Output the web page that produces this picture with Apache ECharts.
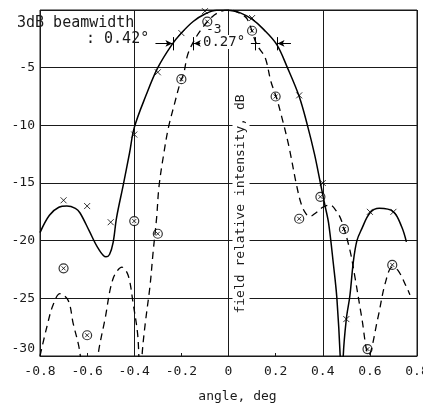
<!DOCTYPE html>
<html>
<head>
<meta charset="utf-8">
<script src="https://cdn.jsdelivr.net/npm/echarts@6/dist/echarts.min.js"></script>
<style>
  html, body { margin: 0; padding: 0; background: #fff; overflow: hidden; }
  #main { width: 423px; height: 403px; }
</style>
</head>
<body>
<div id="main"></div>
<script>
// solid curve: calculated pattern, angle (deg) / level (dB)
const solidAngle = [-0.80, -0.76, -0.72, -0.686, -0.65, -0.63, -0.59, -0.555, -0.52, -0.505, -0.49, -0.475, -0.447, -0.42, -0.40, -0.35, -0.30, -0.24, -0.20, -0.15, -0.10, -0.05, 0.00, 0.05, 0.10, 0.15, 0.205, 0.25, 0.30, 0.335, 0.365, 0.39, 0.41, 0.425, 0.445, 0.46, 0.475, 0.481, 0.487, 0.50, 0.515, 0.53, 0.545, 0.565, 0.60, 0.64, 0.70, 0.735, 0.755];
const solidDb = [-19.3, -17.8, -17.1, -17.0, -17.2, -17.6, -19.2, -20.6, -21.4, -21.2, -20.2, -18.0, -15.2, -12.4, -10.2, -7.4, -5.0, -3.0, -2.0, -1.0, -0.35, -0.02, -0.02, -0.25, -0.8, -1.7, -3.0, -5.0, -7.5, -10.0, -12.5, -15.0, -17.0, -18.5, -22.0, -25.0, -30.5, -36.0, -30.0, -26.8, -24.8, -21.8, -20.0, -19.0, -17.6, -17.2, -17.5, -18.8, -20.1];

// dashed curve
const dashedAngle = [-0.80, -0.77, -0.745, -0.715, -0.68, -0.66, -0.63, -0.592, -0.554, -0.524, -0.49, -0.452, -0.426, -0.405, -0.384, -0.375, -0.367, -0.354, -0.333, -0.32, -0.305, -0.295, -0.275, -0.255, -0.23, -0.205, -0.19, -0.175, -0.155, -0.12, -0.07, -0.03, 0.01, 0.05, 0.08, 0.12, 0.155, 0.18, 0.205, 0.225, 0.255, 0.29, 0.31, 0.33, 0.345, 0.37, 0.40, 0.43, 0.46, 0.48, 0.515, 0.537, 0.565, 0.595, 0.635, 0.665, 0.695, 0.72, 0.755, 0.77];
const dashedDb = [-30.0, -27.4, -25.6, -24.6, -25.2, -27.1, -29.8, -38.0, -30.0, -26.8, -23.3, -22.3, -23.0, -25.4, -28.5, -34.0, -30.0, -27.3, -23.9, -21.0, -18.0, -15.3, -12.5, -10.2, -8.2, -6.3, -5.5, -4.0, -3.0, -1.8, -0.6, -0.1, 0.0, -0.3, -0.8, -3.0, -4.1, -6.2, -7.7, -9.2, -11.7, -15.3, -16.9, -17.7, -17.9, -17.6, -17.1, -16.9, -17.5, -18.3, -20.8, -23.2, -26.6, -29.9, -26.6, -23.7, -22.3, -22.6, -24.0, -24.7];

// measured points (x marks) for the solid curve
const crossAngle = [-0.70, -0.60, -0.50, -0.40, -0.30, -0.20, -0.10, 0.10, 0.30, 0.40, 0.50, 0.60, 0.70];
const crossDb = [-16.5, -17.0, -18.4, -10.8, -5.4, -2.0, -0.1, -0.7, -7.4, -15.0, -26.8, -17.5, -17.5];

// measured points (circled x) for the dashed curve
const circAngle = [-0.70, -0.60, -0.40, -0.30, -0.20, -0.09, 0.10, 0.20, 0.30, 0.39, 0.49, 0.59, 0.695];
const circDb = [-22.4, -28.2, -18.3, -19.4, -6.0, -1.0, -1.8, -7.5, -18.1, -16.2, -19.0, -29.4, -22.1];

// -3 dB beamwidth edges
const beamLevel = -2.9;
const solidEdges = [-0.235, 0.205];
const dashedEdges = [-0.15, 0.115];

const FONT = 'DejaVu Sans Mono';
const INK = '#1a1a1a';

function zip(a, b) {
  return a.map((v, i) => [v, b[i]]);
}

const crossPath = 'path://M0,0L10,10M10,0L0,10';

function tick(x) {
  return [{ coord: [x, beamLevel + 0.55] }, { coord: [x, beamLevel - 0.6] }];
}
function arrow(from, to) {
  return [{ coord: [from, beamLevel], symbol: 'none' },
          { coord: [to, beamLevel], symbol: 'arrow', symbolSize: [5, 7] }];
}

let chart = echarts.init(document.getElementById('main'));
let option = {
  animation: false,
  backgroundColor: '#fff',
  grid: { left: 40, right: 6, top: 10, bottom: 47, show: true, borderColor: INK, borderWidth: 1,
          outerBoundsMode: 'none', containLabel: false },
  xAxis: [
    {
      type: 'value', min: -0.8, max: 0.8, interval: 0.2,
      axisLine: { onZero: false, lineStyle: { color: INK } },
      axisTick: { inside: true, length: 3, lineStyle: { color: INK } },
      axisLabel: { fontFamily: FONT, fontSize: 13, color: INK, margin: 9 },
      splitLine: { show: false },
      name: 'angle, deg', nameLocation: 'middle', nameGap: 34,
      nameTextStyle: { fontFamily: FONT, fontSize: 13, color: INK, padding: [0, 0, 0, 18] }
    },
    {
      type: 'value', min: -0.8, max: 0.8, interval: 0.4, position: 'top',
      axisLine: { show: false }, axisTick: { show: false }, axisLabel: { show: false },
      splitLine: { show: true, lineStyle: { color: INK, width: 1 } }
    }
  ],
  yAxis: {
    type: 'value', min: -30, max: 0, interval: 5,
    axisLine: { onZero: true, onZeroAxisIndex: 0, lineStyle: { color: INK, width: 1 } },
    axisTick: { show: false },
    axisLabel: {
      fontFamily: FONT, fontSize: 13, color: INK, margin: 3,
      formatter: function (v) {
        if (v === 0) return '';
        if (v === -30) return '{b|-30}';
        return '{a|' + v + '}';
      },
      rich: {
        a: { fontFamily: FONT, fontSize: 13, color: INK, backgroundColor: '#fff', padding: [1, 2, 1, 3] },
        b: { fontFamily: FONT, fontSize: 13, color: INK, padding: [0, 2, 14, 3] }
      }
    },
    splitLine: { show: true, lineStyle: { color: INK, width: 1 } }
  },
  series: [
    {
      name: 'solid', type: 'line', data: zip(solidAngle, solidDb),
      smooth: 0.35, showSymbol: false, symbol: 'none',
      lineStyle: { color: '#000', width: 1.5 },
      markLine: {
        silent: true, animation: false, symbol: ['none', 'none'],
        label: { show: false },
        lineStyle: { color: '#000', width: 1, type: 'solid' },
        data: [
          tick(solidEdges[0]), tick(solidEdges[1]),
          tick(dashedEdges[0]), tick(dashedEdges[1]),
          arrow(solidEdges[0] - 0.075, solidEdges[0] - 0.003),
          arrow(solidEdges[1] + 0.06, solidEdges[1] + 0.003),
          arrow(dashedEdges[0] + 0.03, dashedEdges[0] + 0.003),
          [{ coord: [dashedEdges[1] - 0.02, beamLevel] }, { coord: [dashedEdges[1] + 0.02, beamLevel] }]
        ]
      }
    },
    {
      name: 'dashed', type: 'line', data: zip(dashedAngle, dashedDb),
      smooth: 0.35, showSymbol: false, symbol: 'none',
      lineStyle: { color: '#000', width: 1.3, type: [7, 5] }
    },
    {
      name: 'cross', type: 'scatter', data: zip(crossAngle, crossDb),
      symbol: crossPath, symbolSize: 6,
      itemStyle: { color: 'transparent', borderColor: '#000', borderWidth: 1 }
    },
    {
      name: 'circle', type: 'scatter', data: zip(circAngle, circDb),
      symbol: 'circle', symbolSize: 9,
      itemStyle: { color: '#fff', borderColor: '#000', borderWidth: 1.2 }
    },
    {
      name: 'circleCross', type: 'scatter', data: zip(circAngle, circDb),
      symbol: crossPath, symbolSize: 4,
      itemStyle: { color: 'transparent', borderColor: '#000', borderWidth: 1 }
    }
  ],
  graphic: [
    { type: 'text', left: 17, top: 16, z: 10,
      style: { text: '3dB beamwidth', font: '15px "DejaVu Sans Mono"', fill: INK } },
    { type: 'text', left: 86, top: 32, z: 10,
      style: { text: ': 0.42°', font: '15px "DejaVu Sans Mono"', fill: INK } },
    { type: 'text', left: 206, top: 23, z: 10,
      style: { text: '-3', font: '13px "DejaVu Sans Mono"', fill: INK } },
    { type: 'text', left: 203, top: 35, z: 10,
      style: { text: '0.27°', font: '14px "DejaVu Sans Mono"', fill: INK, backgroundColor: '#fff' } },
    { type: 'text', x: 241, y: 204, rotation: Math.PI / 2, z: 10,
      style: { text: 'field relative intensity, dB', font: '13px "DejaVu Sans Mono"', fill: INK,
               align: 'center', verticalAlign: 'middle', backgroundColor: '#fff', padding: [2, 3] } }
  ]
};
option && chart.setOption(option);
</script>
</body>
</html>
